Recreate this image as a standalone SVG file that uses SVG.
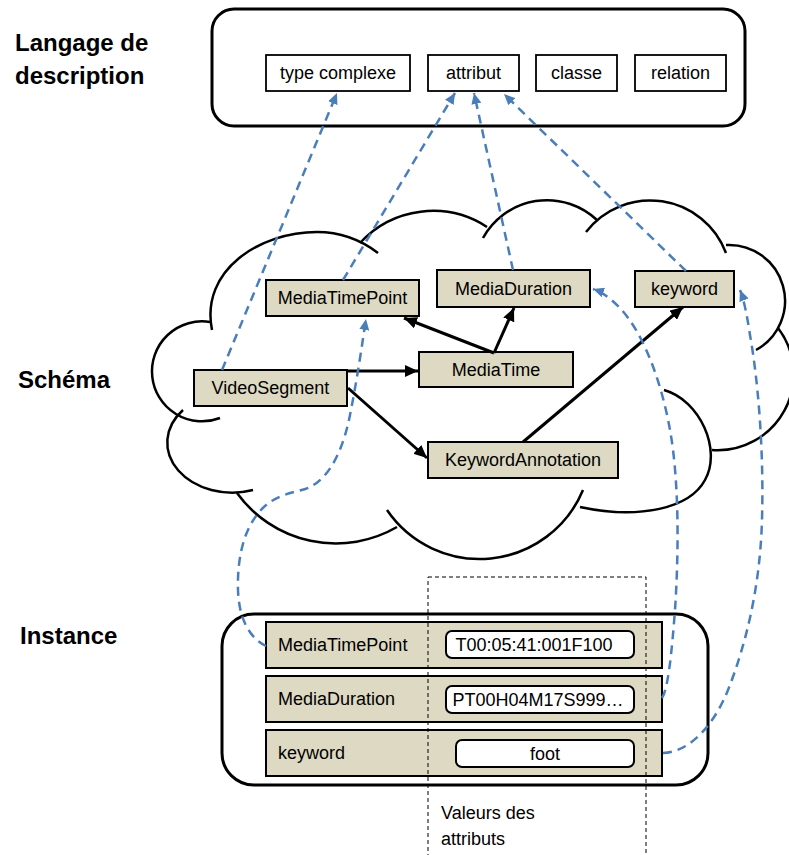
<svg xmlns="http://www.w3.org/2000/svg" width="789" height="855" viewBox="0 0 789 855">
<defs>
<marker id="ab" markerUnits="userSpaceOnUse" markerWidth="14" markerHeight="12" refX="13" refY="6" orient="auto"><path d="M0,0 L13,6 L0,12 z" fill="#000"/></marker>
<marker id="ad" markerUnits="userSpaceOnUse" markerWidth="12" markerHeight="10" refX="11" refY="5" orient="auto"><path d="M0,0 L11,5 L0,10 z" fill="#4a7ebb"/></marker>
<style>
.lbl{font-family:"Liberation Sans",Arial,sans-serif;font-size:18px;fill:#000}
.mid{text-anchor:middle}
.hd{font-family:"Liberation Sans",Arial,sans-serif;font-size:24px;font-weight:bold;fill:#000}
.node rect{fill:#ddd9c3;stroke:#000;stroke-width:2}
.box rect{fill:#fff;stroke:#000;stroke-width:1.8}
.val rect{fill:#fff;stroke:#000;stroke-width:2}
.frame{fill:#fff;stroke:#000;stroke-width:3}
.solid{stroke:#000;stroke-width:3;fill:none;marker-end:url(#ab)}
.dash{stroke:#4a7ebb;stroke-width:2.5;fill:none;stroke-dasharray:9 6;marker-end:url(#ad)}
.cloud{fill:none;stroke:#000;stroke-width:2.5}
</style>
</defs>
<rect x="0" y="0" width="789" height="855" fill="#fff"/>

<g id="titles">
<text class="hd" x="15" y="51">Langage de</text>
<text class="hd" x="15" y="84">description</text>
<text class="hd" x="18" y="388">Schéma</text>
<text class="hd" x="20" y="644">Instance</text>
</g>

<g id="langage">
<rect class="frame" x="212" y="9" width="533" height="117" rx="22"/>
<g id="n-typecomplexe" class="box"><rect x="266" y="55" width="144" height="36"/><text class="lbl mid" x="338" y="79">type complexe</text></g>
<g id="n-attribut" class="box"><rect x="428" y="55" width="91" height="36"/><text class="lbl mid" x="473.5" y="79">attribut</text></g>
<g id="n-classe" class="box"><rect x="536" y="55" width="81" height="36"/><text class="lbl mid" x="576.5" y="79">classe</text></g>
<g id="n-relation" class="box"><rect x="635" y="55" width="91" height="36"/><text class="lbl mid" x="680.5" y="79">relation</text></g>
</g>

<g id="cloud" class="cloud">
<path d="M220,418 A50,50 0 1,1 210,322"/>
<path d="M212,330 C200,270 260,232 317,232 C345,232 365,243 378,253"/>
<path d="M360,243 A99,99 0 0,1 487,227"/>
<path d="M483,238 A73,73 0 0,1 597,220"/>
<path d="M586,232 A81,81 0 0,1 726,253"/>
<path d="M726,245 A56,56 0 0,1 756,350"/>
<path d="M778,328 A76,76 0 0,1 712,450"/>
<path d="M664,390 C700,400 722,450 705,480 C690,508 640,520 580,507"/>
<path d="M583,490 A112,112 0 0,1 387,510"/>
<path d="M397,527 A122,122 0 0,1 237,493"/>
<path d="M253,490 A65,50 0 0,1 183,410"/>
</g>

<g id="schema-nodes">
<g id="n-mediatimepoint" class="node"><rect x="266" y="280" width="153" height="36"/><text class="lbl mid" x="342.5" y="304">MediaTimePoint</text></g>
<g id="n-mediaduration" class="node"><rect x="437" y="270" width="153" height="37"/><text class="lbl mid" x="513.5" y="295">MediaDuration</text></g>
<g id="n-keyword" class="node"><rect x="635" y="271" width="99" height="36"/><text class="lbl mid" x="684.5" y="295">keyword</text></g>
<g id="n-mediatime" class="node"><rect x="419" y="352" width="154" height="35"/><text class="lbl mid" x="496" y="376">MediaTime</text></g>
<g id="n-videosegment" class="node"><rect x="194" y="370" width="153" height="36"/><text class="lbl mid" x="270.5" y="394">VideoSegment</text></g>
<g id="n-keywordannotation" class="node"><rect x="428" y="442" width="190" height="36"/><text class="lbl mid" x="523" y="466">KeywordAnnotation</text></g>
</g>

<g id="instance">
<rect class="frame" x="222" y="614" width="486" height="171" rx="32"/>
<g id="i-mediatimepoint">
<g class="node"><rect x="266" y="622" width="396" height="46"/></g>
<text class="lbl" x="278" y="651">MediaTimePoint</text>
<g class="val"><rect x="446" y="631" width="188" height="27" rx="6"/></g>
<text class="lbl mid" x="534" y="651">T00:05:41:001F100</text>
</g>
<g id="i-mediaduration">
<g class="node"><rect x="266" y="676" width="396" height="46"/></g>
<text class="lbl" x="278" y="705">MediaDuration</text>
<g class="val"><rect x="446" y="686" width="188" height="27" rx="6"/></g>
<text class="lbl mid" x="538" y="706">PT00H04M17S999…</text>
</g>
<g id="i-keyword">
<g class="node"><rect x="266" y="730" width="396" height="46"/></g>
<text class="lbl" x="278" y="759">keyword</text>
<g class="val"><rect x="456" y="740" width="178" height="27" rx="6"/></g>
<text class="lbl mid" x="545" y="760">foot</text>
</g>
</g>

<g id="valeurs">
<rect x="428" y="577" width="218" height="290" fill="none" stroke="#000" stroke-width="1" stroke-dasharray="4 3"/>
<text class="lbl" x="441" y="819">Valeurs des</text>
<text class="lbl" x="441" y="845">attributs</text>
</g>

<g id="connectors">
<path class="solid" d="M347,371 L418,371"/>
<path class="solid" d="M348,388 L427,458"/>
<path class="solid" d="M494,353 L404,318"/>
<path class="solid" d="M494,353 L514,308"/>
<path class="solid" d="M523,442 L683,307"/>
<path class="dash" d="M222,370 L337,93"/>
<path class="dash" d="M343,280 L455,93"/>
<path class="dash" d="M513,270 L474,93"/>
<path class="dash" d="M686,271 L504,94"/>
<path class="dash" d="M266,646 C250,638 239,620 238,590 C237,555 245,520 270,502 C285,492 300,492 310,487 C330,477 343,450 350,415 C357,380 362,345 366,319"/>
<path class="dash" d="M662,698 C668,690 672,650 675,610 C679,550 679,480 670,430 C662,385 645,335 620,308 C610,298 602,292 593,289"/>
<path class="dash" d="M663,753 C690,752 715,725 730,685 C745,645 760,590 762,520 C764,450 758,380 750,335 C747,315 744,300 740,290"/>
</g>
</svg>
